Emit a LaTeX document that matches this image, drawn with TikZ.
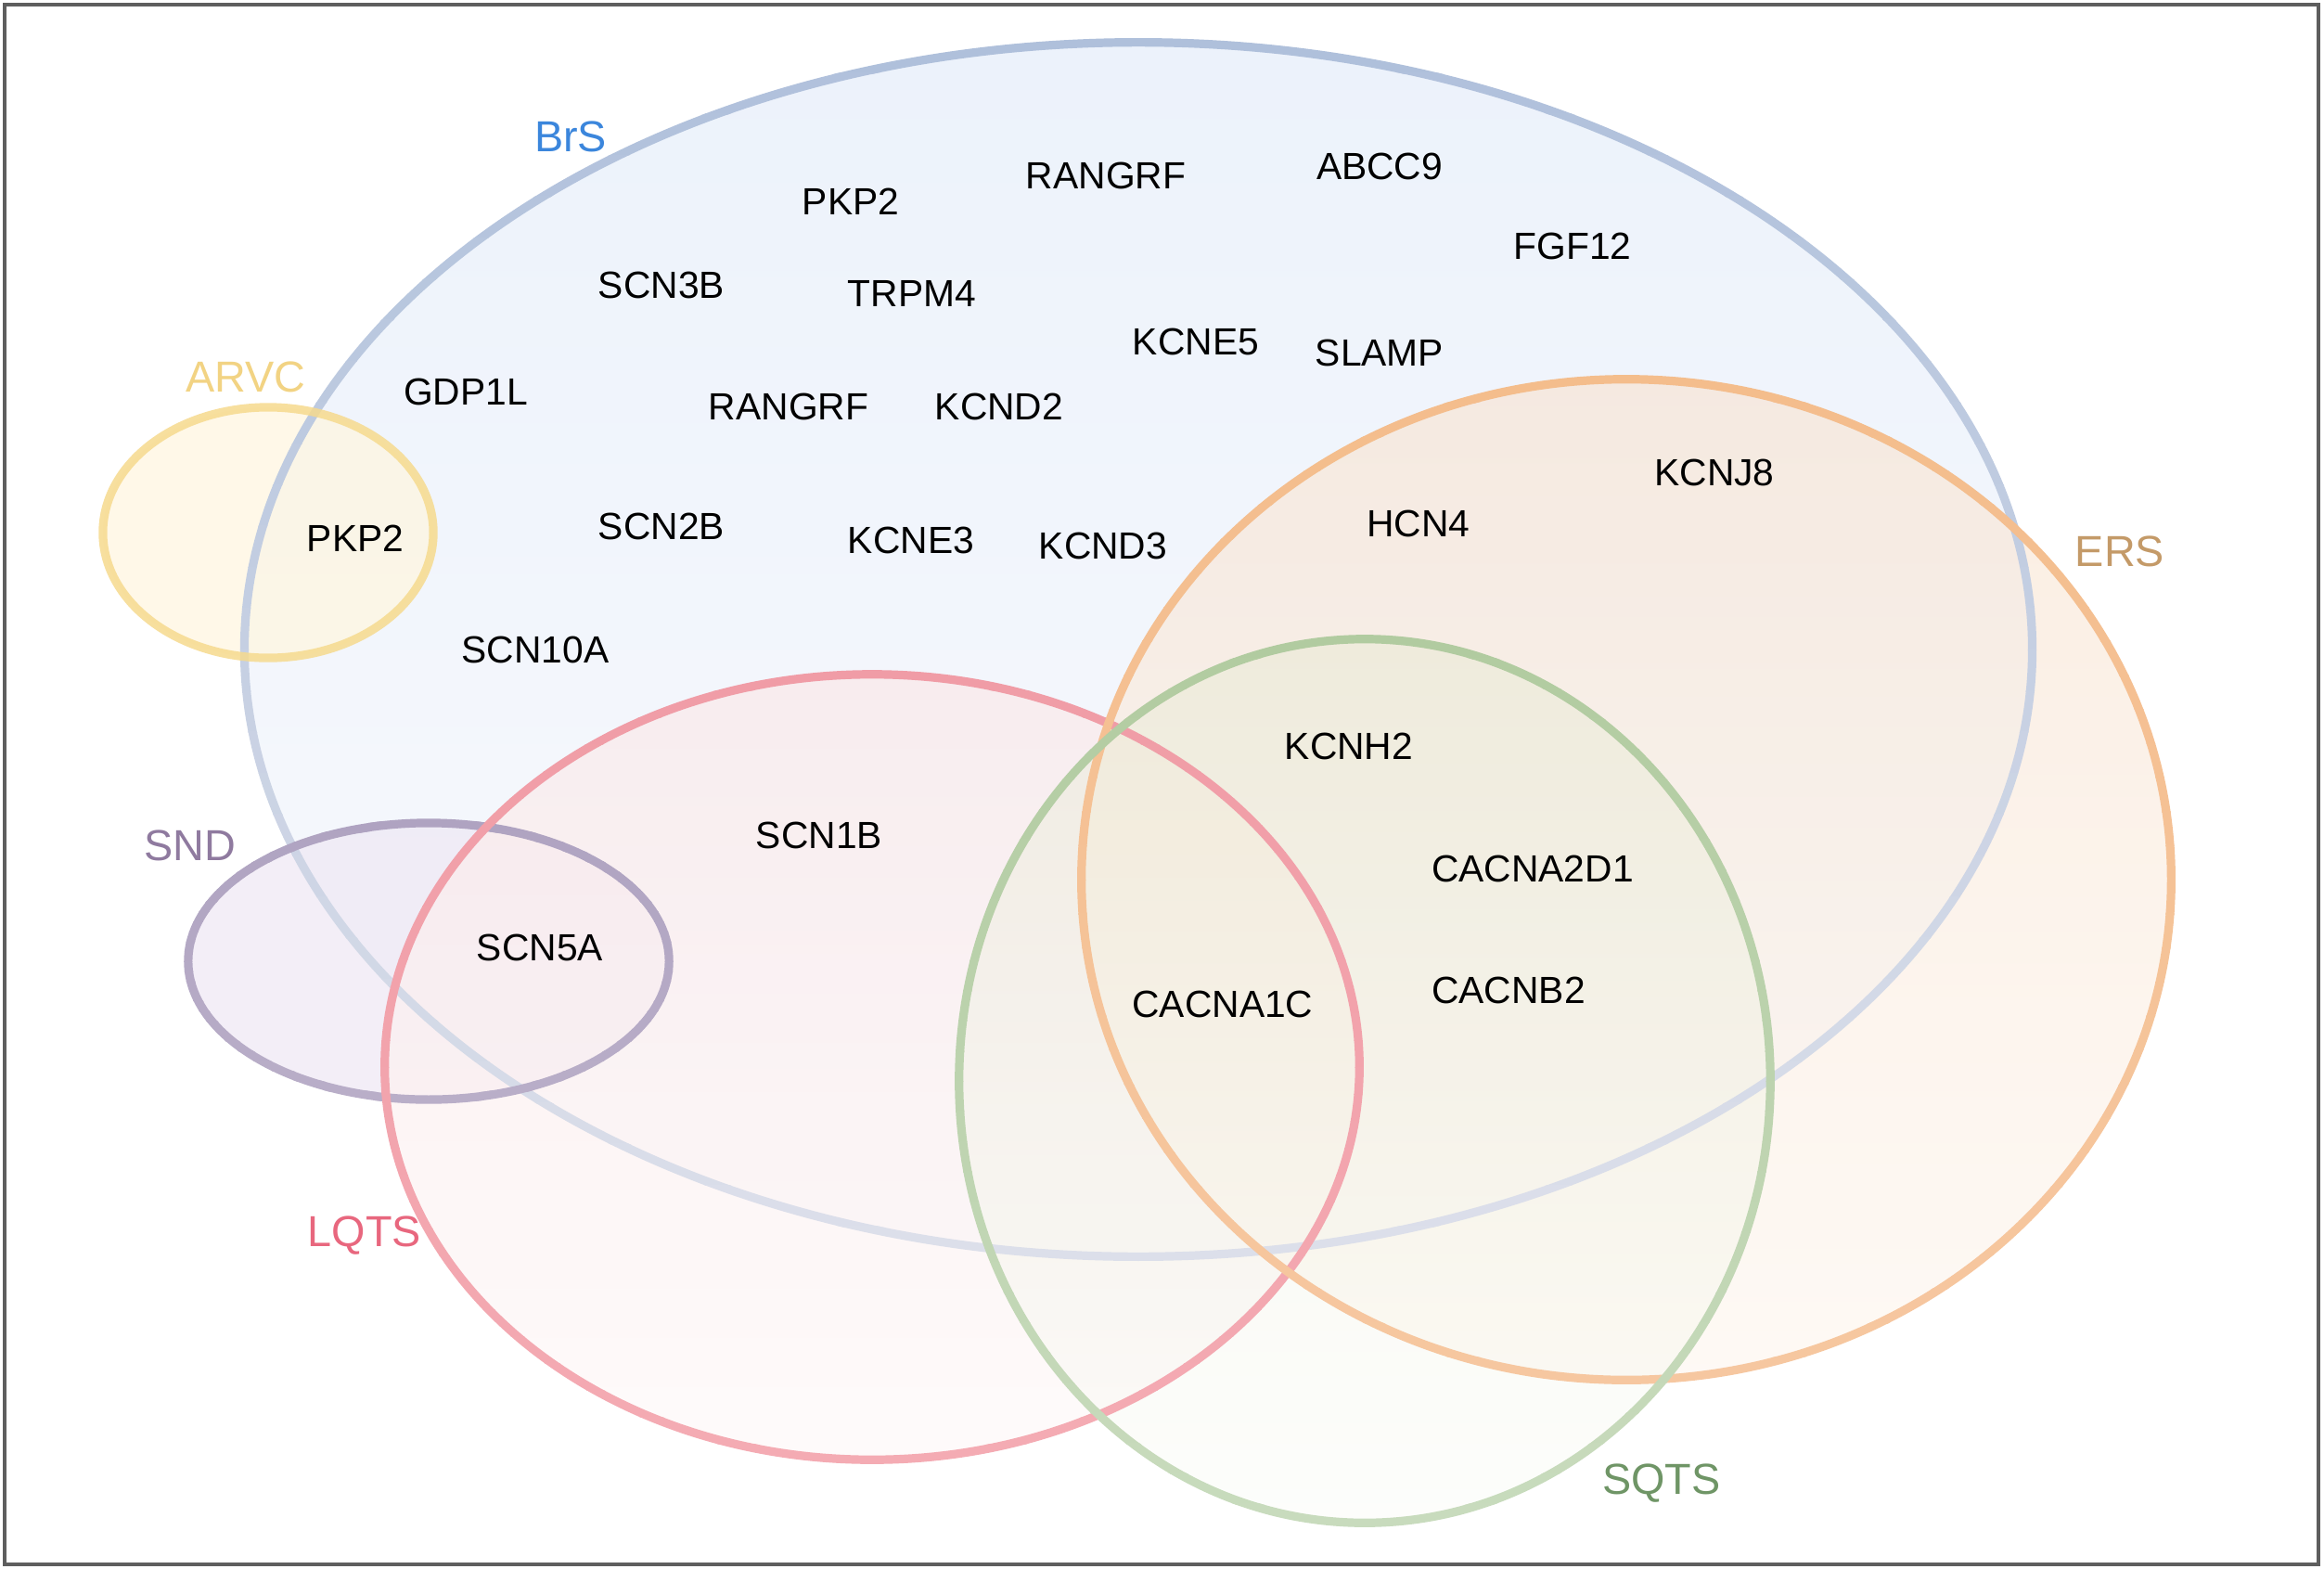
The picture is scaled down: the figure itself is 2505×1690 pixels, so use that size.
\documentclass[tikz,border=0pt]{standalone}
\usepackage{fontspec}
\setmainfont{Liberation Sans}
\definecolor{brsfillT}{HTML}{ECF2FB}
\definecolor{brsfillB}{HTML}{F9FAFD}
\definecolor{brslineT}{HTML}{AFC0DB}
\definecolor{brslineB}{HTML}{DCDFEA}
\definecolor{arvcfill}{HTML}{FFF6DF}
\definecolor{arvcline}{HTML}{F6DA8E}
\definecolor{sndfill}{HTML}{EEE8F4}
\definecolor{sndlineT}{HTML}{AFA3C1}
\definecolor{sndlineB}{HTML}{B9AEC8}
\definecolor{lqtsfillT}{HTML}{FBE9E9}
\definecolor{lqtsfillB}{HTML}{FEF9F9}
\definecolor{lqtslineT}{HTML}{F09CA6}
\definecolor{lqtslineB}{HTML}{F4ABB3}
\definecolor{ersfillT}{HTML}{F8E4D2}
\definecolor{ersfillB}{HTML}{FEF7F0}
\definecolor{erslineT}{HTML}{F4BD8C}
\definecolor{erslineB}{HTML}{F6C7A0}
\definecolor{sqtsfillT}{HTML}{E4E9CF}
\definecolor{sqtsfillB}{HTML}{FAFBF6}
\definecolor{sqtslineT}{HTML}{B1CBA0}
\definecolor{sqtslineB}{HTML}{C8DBBD}
\definecolor{brstext}{HTML}{3B86DC}
\definecolor{arvctext}{HTML}{F2D383}
\definecolor{sndtext}{HTML}{8F7A9F}
\definecolor{lqtstext}{HTML}{E8677E}
\definecolor{erstext}{HTML}{C49A68}
\definecolor{sqtstext}{HTML}{6F9566}
\definecolor{framecol}{HTML}{5E5E5E}
% gradient ring: #1 cx, #2 cy (px), #3 rx (cm), #4 ry (cm), #5 ry (px), #6 top colour, #7 bottom colour
\newcommand\gradring[7]{%
  \foreach \k in {0,...,29}{%
    \pgfmathsetmacro\bandh{(2*#5+24)/30}%
    \pgfmathsetmacro\ya{#2-#5-12+\k*\bandh}%
    \pgfmathsetmacro\yb{\ya+\bandh+0.6}%
    \pgfmathtruncatemacro\pc{100-\k*100/29}%
    \begin{scope}
      \clip (0,\ya) rectangle (2505,\yb);
      \draw[line width=0.092cm, draw=#6!\pc!#7] (#1,#2) ellipse [x radius=#3cm, y radius=#4cm];
    \end{scope}}}
\begin{document}
\begin{tikzpicture}[x=0.01cm,y=-0.01cm,
  gene/.style={font=\fontsize{11.6}{13}\selectfont, text=black, inner sep=0pt},
  dis/.style={font=\fontsize{13.3}{15}\selectfont, inner sep=0pt},
  ring/.style={line width=0.092cm, draw opacity=0.9}]
\useasboundingbox (0,0) rectangle (2505,1690);
\fill[white] (0,0) rectangle (2505,1690);

% ---- fills ----
\shade[top color=brsfillT, bottom color=brsfillB] (1227,700) ellipse [x radius=9.63cm, y radius=6.54cm];
\fill[arvcfill, fill opacity=0.7] (289,574) ellipse [x radius=1.78cm, y radius=1.35cm];
\fill[sndfill, fill opacity=0.7] (462,1036) ellipse [x radius=2.59cm, y radius=1.49cm];
\shade[top color=lqtsfillT, bottom color=lqtsfillB, opacity=0.7] (940,1150) ellipse [x radius=5.25cm, y radius=4.23cm];
\shade[top color=ersfillT, bottom color=ersfillB, opacity=0.65] (1753,948) ellipse [x radius=5.87cm, y radius=5.39cm];
\shade[top color=sqtsfillT, bottom color=sqtsfillB, opacity=0.4] (1471,1165) ellipse [x radius=4.37cm, y radius=4.76cm];

% ---- outlines ----
\gradring{1227}{700}{9.63}{6.54}{654}{brslineT}{brslineB}
\draw[ring, arvcline, draw opacity=0.85] (289,574) ellipse [x radius=1.78cm, y radius=1.35cm];
\gradring{462}{1036}{2.59}{1.49}{149}{sndlineT}{sndlineB}
\gradring{940}{1150}{5.25}{4.23}{423}{lqtslineT}{lqtslineB}
\gradring{1753}{948}{5.87}{5.39}{539}{erslineT}{erslineB}
\gradring{1471}{1165}{4.37}{4.76}{476}{sqtslineT}{sqtslineB}

% frame
\draw[framecol, line width=0.045cm] (5,5) rectangle (2499,1686);

% disease labels
\node[dis, text=brstext]  (lbrs)  at (615,147)  {BrS};
\node[dis, text=arvctext] (larvc) at (265,406)  {ARVC};
\node[dis, text=sndtext]  (lsnd)  at (205,911)  {SND};
\node[dis, text=lqtstext] (llqts) at (393,1332) {LQTS};
\node[dis, text=erstext]  (lers)  at (2285,594) {ERS};
\node[dis, text=sqtstext] (lsqts) at (1791,1599){SQTS};

% genes
\node[gene] (g1)  at (917,217)  {PKP2};
\node[gene] (g2)  at (1192,189) {RANGRF};
\node[gene] (g3)  at (1487,179) {ABCC9};
\node[gene] (g4)  at (1695,265) {FGF12};
\node[gene] (g5)  at (713,307)  {SCN3B};
\node[gene] (g6)  at (983,316)  {TRPM4};
\node[gene] (g7)  at (1289,368) {KCNE5};
\node[gene] (g8)  at (1487,380) {SLAMP};
\node[gene] (g9)  at (502,422)  {GDP1L};
\node[gene] (g10) at (850,438)  {RANGRF};
\node[gene] (g11) at (1077,438) {KCND2};
\node[gene] (g12) at (1848,509) {KCNJ8};
\node[gene] (g13) at (383,580)  {PKP2};
\node[gene] (g14) at (713,567)  {SCN2B};
\node[gene] (g15) at (982,582)  {KCNE3};
\node[gene] (g16) at (1189,588) {KCND3};
\node[gene] (g17) at (1529,564) {HCN4};
\node[gene] (g18) at (577,700)  {SCN10A};
\node[gene] (g19) at (1454,804) {KCNH2};
\node[gene] (g20) at (883,900)  {SCN1B};
\node[gene] (g21) at (1652,936) {CACNA2D1};
\node[gene] (g22) at (582,1021) {SCN5A};
\node[gene] (g23) at (1626,1067){CACNB2};
\node[gene] (g24) at (1318,1082){CACNA1C};
\end{tikzpicture}
\end{document}
